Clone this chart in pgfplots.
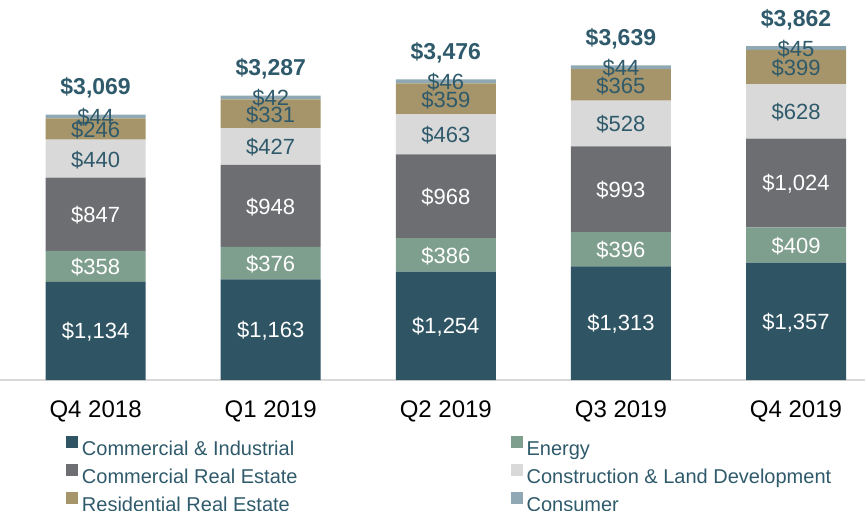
\documentclass[border=0pt]{standalone}
\usepackage{pgfplots}
\pgfplotsset{compat=1.18}
\usepackage{pgfplotstable}
\usepackage{fontspec}
\setmainfont{Liberation Sans}
\definecolor{ci}{HTML}{2F5463}
\definecolor{en}{HTML}{7E9E8E}
\definecolor{cre}{HTML}{6D6E71}
\definecolor{cld}{HTML}{D9D9D9}
\definecolor{rre}{HTML}{A6946A}
\definecolor{cons}{HTML}{8FA8B4}
\definecolor{lbl}{HTML}{2F5A6B}
\pgfplotstableread{
x ci en cre cld rre cons tot
0 1134 358 847 440 246 44 3069
1 1163 376 948 427 331 42 3287
2 1254 386 968 463 359 46 3476
3 1313 396 993 528 365 44 3639
4 1357 409 1024 628 399 45 3862
}\data
\pgfplotsset{
  base/.style={scale only axis, width=432.5pt, height=190pt,
    xmin=-0.546, xmax=4.394, ymin=0, ymax=4394,
    at={(0,0)}, anchor=south west, clip=false},
  sq/.style={legend image code/.code={\fill[##1,draw=none] (0pt,1pt) rectangle (6pt,7pt);}},
  lab/.style={only marks, mark=*, mark size=0pt, mark options={draw=none,fill=none},
    point meta=explicit,
    nodes near coords={\$\pgfmathprintnumber[fixed,precision=0,1000 sep={,}]{\pgfplotspointmeta}},
    every node near coord/.append style={anchor=center, inner sep=0pt, yshift=-0.5pt, font=\fontsize{11}{13}\selectfont, text=#1}},
}
\pgfkeys{/pgf/number format/assume math mode=true}
\begin{document}
\begin{tikzpicture}[x=1pt,y=1pt]
\useasboundingbox (0,-65) rectangle (432.5,190);
\begin{axis}[base, ybar stacked, bar width=50pt,
  axis y line=none, axis x line*=bottom,
  x axis line style={draw=cld, line width=1pt, -},
  xtick={0,1,2,3,4},
  xticklabels={Q4 2018,Q1 2019,Q2 2019,Q3 2019,Q4 2019},
  major tick length=0pt,
  xticklabel style={font=\fontsize{12}{14}\selectfont, text=black, inner sep=0pt, anchor=north, yshift=-10pt},
  legend columns=2,
  legend cell align=left,
  legend style={at={(axis description cs:0.0763,-0.1474)}, anchor=north west,
    draw=none, fill=none, inner sep=0pt, outer sep=0pt,
    font=\fontsize{10}{12}\selectfont, text=lbl, row sep=2.25pt,
    nodes={inner sep=0pt, text height=7.5pt, text depth=2pt},
    /tikz/column 1/.style={column sep=2pt},
    /tikz/column 2/.style={column sep=106.5pt},
    /tikz/column 3/.style={column sep=2pt}},
  ]
\addplot[fill=ci, draw=none, sq] table[x=x,y=ci]{\data};
\addlegendentry{Commercial \& Industrial}
\addplot[fill=en, draw=none, sq] table[x=x,y=en]{\data};
\addlegendentry{Energy}
\addplot[fill=cre, draw=none, sq] table[x=x,y=cre]{\data};
\addlegendentry{Commercial Real Estate}
\addplot[fill=cld, draw=none, sq] table[x=x,y=cld]{\data};
\addlegendentry{Construction \& Land Development}
\addplot[fill=rre, draw=none, sq] table[x=x,y=rre]{\data};
\addlegendentry{Residential Real Estate}
\addplot[fill=cons, draw=none, sq] table[x=x,y=cons]{\data};
\addlegendentry{Consumer}
\end{axis}
\begin{axis}[base, axis lines=none]
\addplot[lab=white] table[x=x, y expr=\thisrow{ci}/2, meta=ci]{\data};
\addplot[lab=white] table[x=x, y expr=\thisrow{ci}+\thisrow{en}/2, meta=en]{\data};
\addplot[lab=white] table[x=x, y expr=\thisrow{ci}+\thisrow{en}+\thisrow{cre}/2, meta=cre]{\data};
\addplot[lab=lbl] table[x=x, y expr=\thisrow{ci}+\thisrow{en}+\thisrow{cre}+\thisrow{cld}/2, meta=cld]{\data};
\addplot[lab=lbl] table[x=x, y expr=\thisrow{ci}+\thisrow{en}+\thisrow{cre}+\thisrow{cld}+\thisrow{rre}/2, meta=rre]{\data};
\addplot[lab=lbl] table[x=x, y expr=\thisrow{tot}-\thisrow{cons}/2, meta=cons]{\data};
\addplot[only marks, mark=*, mark size=0pt, mark options={draw=none,fill=none},
  point meta=explicit,
  nodes near coords={\$\pgfmathprintnumber[fixed,precision=0,1000 sep={,}]{\pgfplotspointmeta}},
  every node near coord/.append style={anchor=base, inner sep=0pt, yshift=10pt,
    font=\bfseries\fontsize{11.5}{13}\selectfont, text=lbl}]
  table[x=x, y=tot, meta=tot]{\data};
\end{axis}
\end{tikzpicture}
\end{document}
